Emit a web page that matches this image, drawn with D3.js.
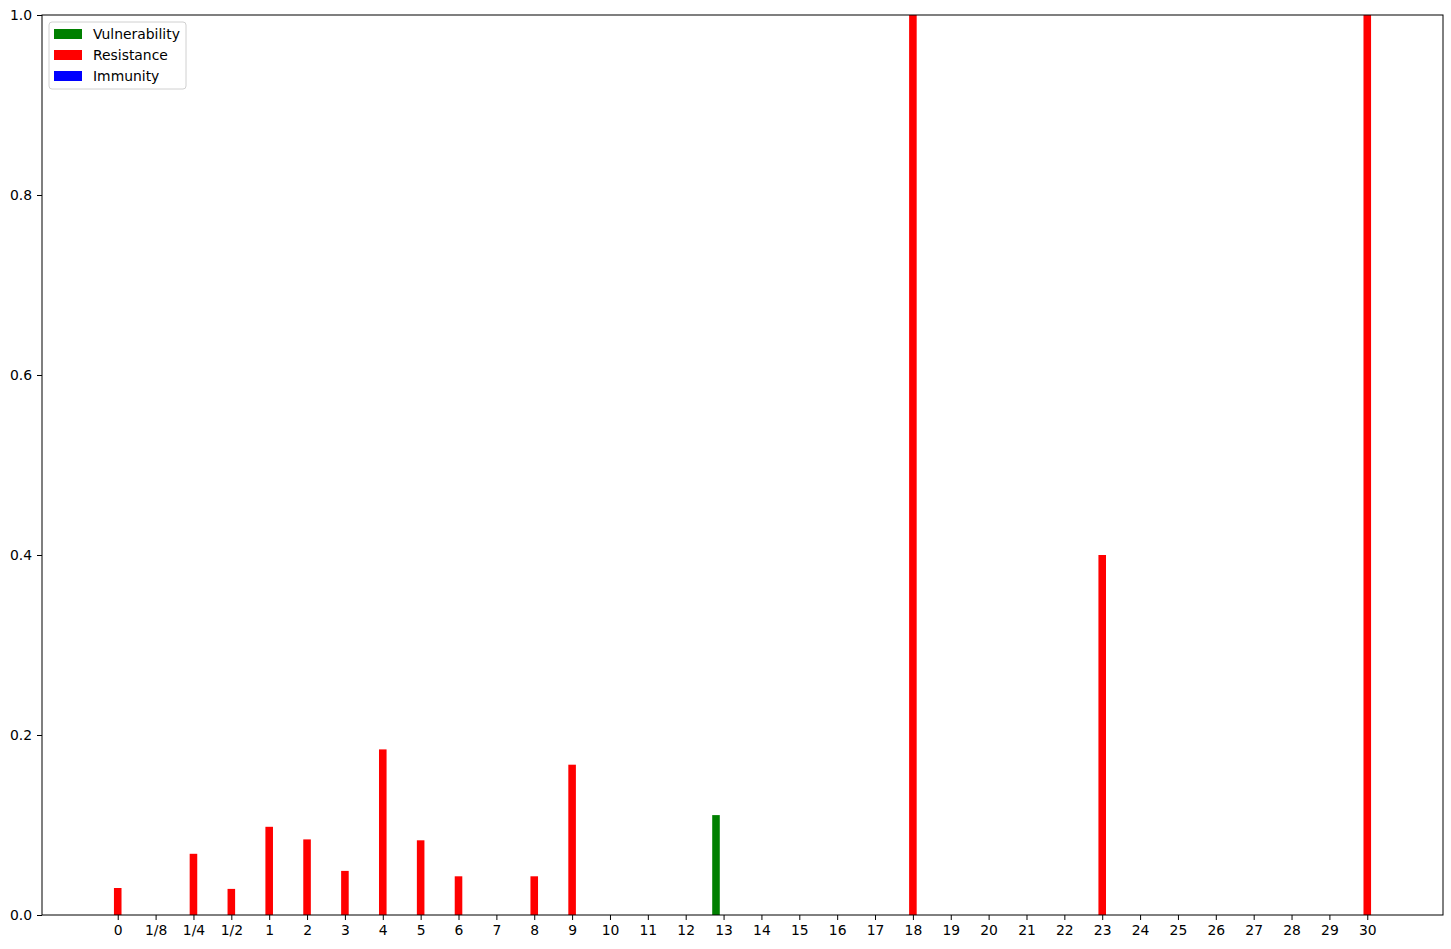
<!DOCTYPE html>
<html>
<head>
<meta charset="utf-8">
<script src="https://cdn.jsdelivr.net/npm/d3@7"></script>
<style>
  body { margin: 0; background: #fff; }
  text { font-family: "DejaVu Sans", sans-serif; }
</style>
</head>
<body>
<div id="chart"></div>
<script>
// categories (tick labels)
var categories = ["0", "1/8", "1/4", "1/2", "1", "2", "3", "4", "5", "6", "7", "8", "9",
  "10", "11", "12", "13", "14", "15", "16", "17", "18", "19", "20", "21", "22", "23",
  "24", "25", "26", "27", "28", "29", "30"];

// series values, one per category
var vulnerability = [0, 0, 0, 0, 0, 0, 0, 0, 0, 0, 0, 0, 0,
  0, 0, 0, 0.111, 0, 0, 0, 0, 0, 0, 0, 0, 0, 0,
  0, 0, 0, 0, 0, 0, 0];
var resistance = [0.030, 0, 0.068, 0.029, 0.098, 0.084, 0.049, 0.184, 0.083, 0.043, 0, 0.043, 0.167,
  0, 0, 0, 0, 0, 0, 0, 0, 1.0, 0, 0, 0, 0, 0.4,
  0, 0, 0, 0, 0, 0, 1.0];
var immunity = [0, 0, 0, 0, 0, 0, 0, 0, 0, 0, 0, 0, 0,
  0, 0, 0, 0, 0, 0, 0, 0, 0, 0, 0, 0, 0, 0,
  0, 0, 0, 0, 0, 0, 0];

var yTicks = [0, 0.2, 0.4, 0.6, 0.8, 1.0];

var series = [
  { name: "Vulnerability", color: "#008000", values: vulnerability, offset: -0.2 },
  { name: "Resistance", color: "#ff0000", values: resistance, offset: 0 },
  { name: "Immunity", color: "#0000ff", values: immunity, offset: 0.2 }
];

var W = 1451, H = 949;
var margin = { top: 15, right: 8, bottom: 34, left: 42 };
var width = W - margin.left - margin.right;
var height = H - margin.top - margin.bottom;
var barW = 0.2;
var fontSize = 13.9;

var x = d3.scaleLinear().domain([-2, 35]).range([0, width]);
var y = d3.scaleLinear().domain([0, 1]).range([height, 0]);

var svg = d3.select("#chart").append("svg")
    .attr("width", W)
    .attr("height", H)
  .append("g")
    .attr("transform", "translate(" + margin.left + "," + margin.top + ")");

// bars
series.forEach(function(s) {
  svg.append("g")
    .selectAll("rect")
    .data(s.values.map(function(v, i) { return { i: i, v: v }; }))
    .enter()
    .append("rect")
    .attr("x", function(d) { return x(d.i + s.offset - barW / 2); })
    .attr("width", x(barW) - x(0))
    .attr("y", function(d) { return y(d.v); })
    .attr("height", function(d) { return y(0) - y(d.v); })
    .attr("fill", s.color);
});

// axes
var axisX = d3.axisBottom(x)
  .tickValues(d3.range(categories.length))
  .tickFormat(function(i) { return categories[i]; })
  .tickSize(5)
  .tickPadding(5);
var gx = svg.append("g")
  .attr("transform", "translate(0," + height + ")")
  .call(axisX);

var axisY = d3.axisLeft(y)
  .tickValues(yTicks)
  .tickFormat(d3.format(".1f"))
  .tickSize(5)
  .tickPadding(5);
var gy = svg.append("g").call(axisY);

[gx, gy].forEach(function(g) {
  g.select(".domain").remove();
  g.attr("font-size", fontSize).attr("font-family", "DejaVu Sans, sans-serif");
  g.selectAll("text").attr("fill", "#000");
  g.selectAll("line").attr("stroke", "#000").attr("stroke-width", 1);
});

// frame
svg.append("rect")
  .attr("width", width)
  .attr("height", height)
  .attr("fill", "none")
  .attr("stroke", "#000")
  .attr("stroke-width", 1);

// legend
var legend = svg.append("g").attr("transform", "translate(7,7)");
legend.append("rect")
  .attr("width", 137)
  .attr("height", 67)
  .attr("rx", 3)
  .attr("fill", "#fff")
  .attr("fill-opacity", 0.8)
  .attr("stroke", "#d0d0d0");

series.forEach(function(s, i) {
  var row = legend.append("g").attr("transform", "translate(5," + (7 + i * 21) + ")");
  row.append("rect")
    .attr("width", 28)
    .attr("height", 10)
    .attr("fill", s.color);
  row.append("text")
    .attr("x", 39)
    .attr("y", 10)
    .attr("font-size", fontSize)
    .attr("fill", "#000")
    .text(s.name);
});
</script>
</body>
</html>
